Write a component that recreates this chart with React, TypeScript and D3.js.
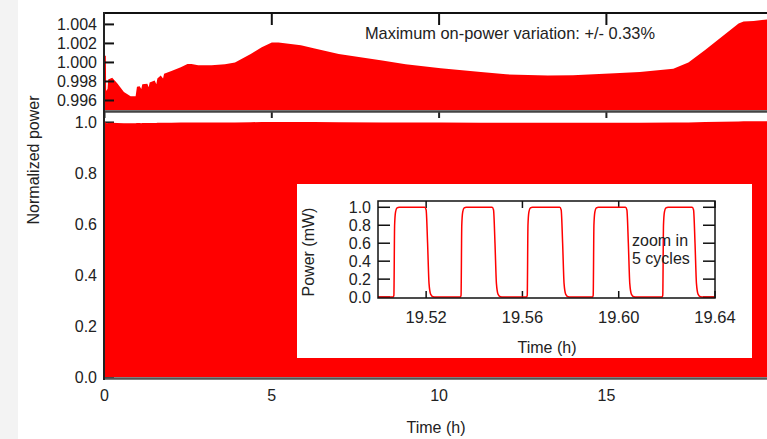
import React from "react";
import * as d3 from "d3";

// Envelope of normalized power (top panel zoom, also the top of the bottom panel fill)
const envTime = [0, 0.04, 0.05, 0.09, 0.11, 0.23, 0.38, 0.58, 0.78, 0.93, 0.97, 1.05, 1.1, 1.13, 1.28, 1.32, 1.35, 1.5, 1.55, 1.58, 1.68, 1.75, 1.78, 2.0, 2.28, 2.48, 2.6, 2.8, 3.2, 3.6, 3.9, 4.37, 4.7, 5.0, 5.2, 5.87, 6.25, 7.0, 8.3, 9.0, 10.05, 11.25, 12.0, 13.25, 14.0, 15.25, 16.0, 17.0, 17.45, 17.95, 18.45, 18.95, 19.1, 19.4, 20.0];
const envValue = [1.0007, 1.0007, 0.997, 0.9972, 0.9982, 0.9984, 0.9978, 0.9969, 0.99645, 0.99645, 0.99745, 0.9975, 0.9972, 0.9977, 0.99775, 0.9974, 0.9979, 0.9981, 0.9977, 0.9983, 0.99863, 0.9983, 0.9988, 0.9991, 0.9995, 0.99985, 0.99985, 0.9997, 0.9997, 0.9998, 1.0, 1.0009, 1.0016, 1.0021, 1.0021, 1.0018, 1.0015, 1.0009, 1.0002, 0.9998, 0.9994, 0.999, 0.99875, 0.99863, 0.99865, 0.99887, 0.999, 0.99934, 1.0, 1.0013, 1.0027, 1.0041, 1.0043, 1.00435, 1.0046];

const mainXTicks = [0, 5, 10, 15];
const topYTicks = [0.996, 0.998, 1.0, 1.002, 1.004];
const bottomYTicks = [0, 0.2, 0.4, 0.6, 0.8, 1.0];

// Inset: 5 on/off cycles
const riseTimes = [19.5066, 19.5345, 19.562, 19.5894, 19.6183];
const fallTimes = [19.5202, 19.5482, 19.5763, 19.6036, 19.6313];
const insetXTicks = [19.52, 19.56, 19.6, 19.64];
const insetYTicks = [0, 0.2, 0.4, 0.6, 0.8, 1.0];

const FONT = "'Liberation Sans', Arial, sans-serif";
const TXT = "#222";
const RED = "#ff0000";

export default function App() {
  const x = d3.scaleLinear().domain([0, 20]).range([104.5, 773.7]);
  const yTop = d3.scaleLinear().domain([0.995, 1.0052]).range([110, 13]);
  const yBot = d3.scaleLinear().domain([-0.008, 1.041]).range([379, 112]);

  const env = envTime.map((t, i) => [t, envValue[i]] as [number, number]);
  const topArea = d3
    .area<[number, number]>()
    .x((d) => x(d[0]))
    .y0(110)
    .y1((d) => yTop(d[1]));
  const botArea = d3
    .area<[number, number]>()
    .x((d) => x(d[0]))
    .y0(yBot(0))
    .y1((d) => yBot(d[1]));

  // inset
  const ix = d3.scaleLinear().domain([19.5, 19.64]).range([378, 715]);
  const iy = d3.scaleLinear().domain([-0.01, 1.07]).range([298, 201]);
  const pts: [number, number][] = [[19.5, 0]];
  riseTimes.forEach((tr, i) => {
    const tf = fallTimes[i];
    pts.push([tr - 0.0003, 0]);
    pts.push([tr, 0.02]);
    pts.push([tr + 0.0003, 0.8]);
    pts.push([tr + 0.0007, 0.95]);
    pts.push([tr + 0.0013, 0.993]);
    pts.push([tr + 0.0022, 1.0]);
    pts.push([tf - 0.0008, 1.0]);
    pts.push([tf - 0.0002, 0.97]);
    pts.push([tf + 0.0004, 0.6]);
    pts.push([tf + 0.001, 0.15]);
    pts.push([tf + 0.0017, 0.03]);
    pts.push([tf + 0.0027, 0.003]);
    pts.push([tf + 0.0038, 0]);
  });
  pts.push([19.64, 0]);
  const pulseLine = d3
    .line<[number, number]>()
    .x((d) => ix(d[0]))
    .y((d) => iy(d[1]))
    .curve(d3.curveMonotoneX);

  return (
    <svg
      width={767}
      height={439}
      style={{ position: "absolute", left: 0, top: 0, background: "#fff" }}
      fontFamily={FONT}
    >
      <rect x={0} y={0} width={18} height={439} fill="#f3f3f3" />

      {/* top panel */}
      <path d={topArea(env) || ""} fill={RED} />
      {topYTicks.map((v) => (
        <g key={v}>
          <line x1={104} x2={114} y1={yTop(v)} y2={yTop(v)} stroke="#111" strokeWidth={2} />
          <text x={97} y={yTop(v)} dy="0.35em" textAnchor="end" fontSize={16} fill={TXT}>
            {v.toFixed(3)}
          </text>
        </g>
      ))}
      {mainXTicks.filter((t) => t > 0).map((t) => (
        <line key={t} x1={x(t)} x2={x(t)} y1={13} y2={25} stroke="#111" strokeWidth={2} />
      ))}
      <line x1={103} x2={767} y1={13} y2={13} stroke="#111" strokeWidth={2} />
      <text x={510} y={33} dy="0.35em" textAnchor="middle" fontSize={16.4} fill={TXT}>
        Maximum on-power variation: +/- 0.33%
      </text>

      {/* bottom panel */}
      {bottomYTicks.map((v) => (
        <g key={v}>
          <line x1={104} x2={114} y1={yBot(v)} y2={yBot(v)} stroke="#222" strokeWidth={2} />
          <text x={97} y={yBot(v)} dy="0.35em" textAnchor="end" fontSize={16} fill={TXT}>
            {v.toFixed(1)}
          </text>
        </g>
      ))}
      <path d={botArea(env) || ""} fill={RED} />
      {mainXTicks.map((t) => (
        <g key={t}>
          <line x1={x(t)} x2={x(t)} y1={112} y2={118} stroke="#222" strokeWidth={2} />
          <text x={x(t)} y={395} dy="0.35em" textAnchor="middle" fontSize={16} fill={TXT}>
            {t}
          </text>
        </g>
      ))}
      <line x1={103} x2={767} y1={111.5} y2={111.5} stroke="#444" strokeWidth={2.5} />
      <line x1={103} x2={767} y1={378.5} y2={378.5} stroke="#555" strokeWidth={2.5} />
      <line x1={104} x2={104} y1={12} y2={380} stroke="#222" strokeWidth={2} />
      <text x={436} y={427} dy="0.35em" textAnchor="middle" fontSize={16} fill={TXT}>
        Time (h)
      </text>
      <text
        transform="translate(33,160) rotate(-90)"
        textAnchor="middle"
        dy="0.35em"
        fontSize={16}
        fill={TXT}
      >
        Normalized power
      </text>

      {/* inset */}
      <rect x={297} y={184} width={455} height={174} fill="#fff" />
      {insetYTicks.map((v) => (
        <g key={v}>
          <line x1={378} x2={390} y1={iy(v)} y2={iy(v)} stroke="#111" strokeWidth={1.5} />
          <line x1={703} x2={715} y1={iy(v)} y2={iy(v)} stroke="#111" strokeWidth={1.5} />
          <text x={371} y={iy(v)} dy="0.35em" textAnchor="end" fontSize={16} fill={TXT}>
            {v.toFixed(1)}
          </text>
        </g>
      ))}
      {insetXTicks.map((t) => (
        <g key={t}>
          <line x1={ix(t)} x2={ix(t)} y1={201} y2={208} stroke="#111" strokeWidth={1.5} />
          <line x1={ix(t)} x2={ix(t)} y1={291} y2={298} stroke="#111" strokeWidth={1.5} />
          <text x={ix(t)} y={317} dy="0.35em" textAnchor="middle" fontSize={16.5} fill={TXT}>
            {t.toFixed(2)}
          </text>
        </g>
      ))}
      <path d={pulseLine(pts) || ""} fill="none" stroke={RED} strokeWidth={1.5} />
      <rect x={378} y={201} width={337} height={97} fill="none" stroke="#111" strokeWidth={1.5} />
      <text x={632} y={240} dy="0.35em" fontSize={16} fill={TXT}>
        zoom in
      </text>
      <text x={632} y={258} dy="0.35em" fontSize={16} fill={TXT}>
        5 cycles
      </text>
      <text x={547} y={347} dy="0.35em" textAnchor="middle" fontSize={16} fill={TXT}>
        Time (h)
      </text>
      <text
        transform="translate(308,252) rotate(-90)"
        textAnchor="middle"
        dy="0.35em"
        fontSize={16}
        fill={TXT}
      >
        Power (mW)
      </text>
    </svg>
  );
}
